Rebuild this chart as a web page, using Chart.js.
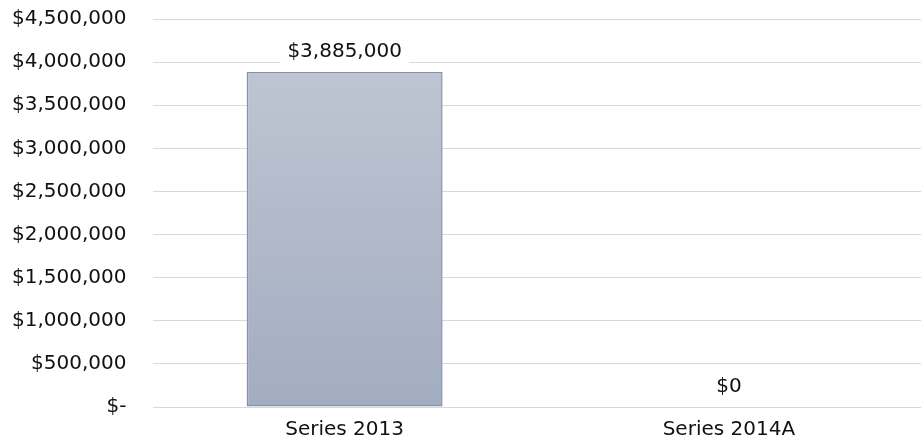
<!DOCTYPE html>
<html>
<head>
<meta charset="utf-8">
<script src="https://cdn.jsdelivr.net/npm/chart.js@4/dist/chart.umd.min.js"></script>
<style>
  html, body { margin: 0; padding: 0; background: #fff; overflow: hidden; }
  #wrap { width: 921px; height: 447px; }
</style>
</head>
<body>
<div id="wrap"><canvas id="bondChart"></canvas></div>
<script>
const categories = ['Series 2013', 'Series 2014A'];
const amounts = [3885000, 0];
const yTicks = [0, 500000, 1000000, 1500000, 2000000, 2500000, 3000000, 3500000, 4000000, 4500000];

const FONT = '"DejaVu Sans", Verdana, sans-serif';

function money(v) {
  if (v === 0) return '$-';
  return '$' + v.toLocaleString('en-US');
}

// labels above each bar, with a white box so the gridline breaks behind them
const valueLabels = {
  id: 'valueLabels',
  afterDatasetsDraw(chart) {
    const ctx = chart.ctx;
    const meta = chart.getDatasetMeta(0);
    ctx.save();
    ctx.font = '20px ' + FONT;
    ctx.textAlign = 'center';
    ctx.textBaseline = 'middle';
    meta.data.forEach((bar, i) => {
      const text = '$' + amounts[i].toLocaleString('en-US');
      const y = bar.y - 20;
      const w = ctx.measureText(text).width + 14;
      ctx.fillStyle = '#ffffff';
      ctx.fillRect(bar.x - w / 2, y - 12, w, 24);
      ctx.fillStyle = '#111111';
      ctx.fillText(text, bar.x, y);
    });
    ctx.restore();
  }
};

const ctx = document.getElementById('bondChart').getContext('2d');
new Chart(ctx, {
  type: 'bar',
  data: {
    labels: categories,
    datasets: [{
      data: amounts,
      backgroundColor: (c) => {
        const area = c.chart.chartArea;
        if (!area) return '#b4bccb';
        const g = c.chart.ctx.createLinearGradient(0, area.top, 0, area.bottom);
        g.addColorStop(0, '#c2c8d4');
        g.addColorStop(1, '#a3adc1');
        return g;
      },
      borderColor: '#8690ab',
      borderWidth: 1.5,
      borderSkipped: false,
      barPercentage: 0.51,
      categoryPercentage: 1
    }]
  },
  options: {
    responsive: true,
    maintainAspectRatio: false,
    animation: false,
    layout: { padding: { top: 0, right: -5, bottom: -7, left: -14 } },
    plugins: { legend: { display: false }, tooltip: { enabled: false } },
    scales: {
      x: {
        grid: { display: false },
        border: { display: false },
        ticks: { color: '#111', padding: 3, font: { size: 20, family: FONT } }
      },
      y: {
        min: 0,
        max: 4500000,
        afterBuildTicks: (axis) => { axis.ticks = yTicks.map(v => ({ value: v })); },
        afterFit: (axis) => { axis.paddingTop = 19; axis.paddingBottom = 40; },
        grid: { color: '#d9d9d9', drawTicks: false },
        border: { display: false },
        ticks: {
          color: '#111',
          padding: 26,
          font: { size: 20, family: FONT },
          callback: (v) => money(v)
        }
      }
    }
  },
  plugins: [valueLabels]
});
</script>
</body>
</html>
